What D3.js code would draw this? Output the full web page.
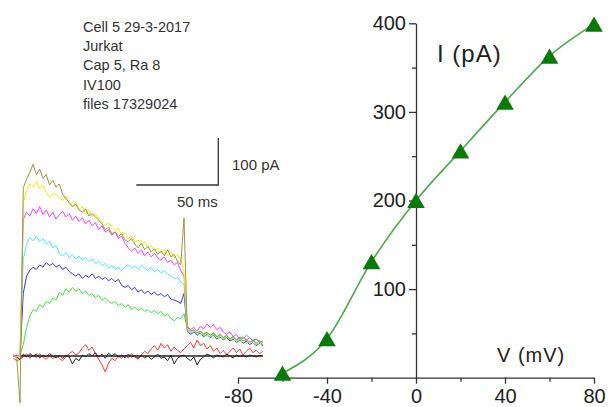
<!DOCTYPE html>
<html>
<head>
<meta charset="utf-8">
<script src="https://cdn.jsdelivr.net/npm/d3@7"></script>
<style>
  html, body { margin: 0; padding: 0; background: #fff; }
  svg { display: block; font-family: "Liberation Sans", Arial, sans-serif; }
</style>
</head>
<body>
<svg id="chart" width="611" height="407"></svg>
<script>
'use strict';

// recording notes, top left
const notes = ['Cell 5 29-3-2017', 'Jurkat', 'Cap 5, Ra 8', 'IV100', 'files 17329024'];

// current traces (pA), one sample every 2 ms starting at -4 ms, step from 0 to 100 ms
const traceStart = -4;
const traceStep = 2;
const traceRed = [
  -5, -10, -7, -2, 5, -5, 2, -4, 5, -2,
  -7, 0, -6, 2, -5, -10, -2, 5, 10, 2,
  7, 17, 24, 12, 19, 5, -7, -19, -34, -15,
  -5, -10, 0, -5, 2, -4, 5, -2, -7, 2,
  10, 5, 15, 22, 12, 27, 17, 24, 10, 19,
  12, 7, 15, 22, 29, 17, 34, 22, 27, 15,
  22, 10, 17, 5, 12, 2, 10, 17, 7, 15,
  2, 10, 17, 7, 12, 5, 10];
const traceBlack = [
  2, -2, -7, 4, -2, 5, 0, 4, -4, 2,
  -2, 5, 0, -4, 2, -5, 1, -2, -17, -5,
  -10, 2, -2, 5, 0, 7, -2, 4, -5, 6,
  0, 5, -2, 2, -4, 4, -2, 1, -5, 2,
  -4, 0, -7, -2, 4, -5, -2, -10, 2, -17,
  -5, 0, 2, -5, -10, -2, -19, -7, -2, 4,
  1, -4, 2, 0, -2, 4, 0, -4, 2, -1,
  1, -2, 2, 0, -2, 1, 0];
const traceGreen = [
  1, -1, 2, 24, 61, 85, 99, 95, 109, 104,
  116, 112, 124, 119, 136, 129, 143, 136, 146, 138,
  143, 133, 138, 129, 133, 124, 129, 119, 124, 116,
  112, 116, 107, 112, 104, 109, 99, 104, 97, 102,
  95, 99, 92, 97, 90, 95, 85, 90, 80, 75,
  82, 80, 90, 58, 51, 56, 49, 53, 46, 51,
  44, 49, 41, 46, 39, 44, 36, 41, 34, 41,
  36, 44, 39, 34, 36, 32, 29];
const traceBlue = [
  -1, 1, 0, 133, 170, 182, 189, 184, 194, 189,
  199, 192, 197, 189, 194, 184, 189, 180, 175, 170,
  175, 165, 172, 167, 175, 165, 170, 163, 167, 160,
  165, 158, 163, 150, 146, 150, 141, 146, 136, 141,
  133, 138, 131, 136, 129, 133, 126, 131, 121, 119,
  116, 112, 133, 53, 46, 51, 44, 49, 41, 46,
  39, 44, 36, 41, 34, 39, 32, 36, 29, 34,
  27, 32, 24, 29, 22, 27, 22];
const traceCyan = [
  0, -1, 1, 206, 238, 252, 245, 255, 243, 250,
  238, 243, 230, 235, 218, 213, 221, 209, 216, 206,
  213, 204, 209, 201, 206, 197, 201, 192, 197, 187,
  192, 184, 189, 182, 189, 194, 187, 192, 184, 194,
  187, 182, 189, 180, 184, 177, 182, 175, 170, 165,
  167, 158, 152, 56, 49, 53, 46, 51, 44, 49,
  41, 46, 39, 44, 36, 41, 34, 39, 32, 36,
  29, 34, 27, 32, 24, 29, 24];
const traceMagenta = [
  0, 2, -2, 291, 306, 298, 313, 303, 318, 301,
  311, 296, 306, 291, 301, 308, 296, 303, 289, 298,
  286, 294, 281, 289, 277, 284, 269, 277, 264, 269,
  257, 264, 250, 255, 240, 230, 223, 230, 218, 226,
  213, 221, 211, 218, 209, 204, 211, 199, 204, 194,
  199, 182, 170, 63, 56, 61, 53, 63, 58, 68,
  61, 66, 56, 61, 51, 46, 51, 41, 46, 36,
  41, 34, 39, 32, 36, 29, 32];
const traceYellow = [
  1, -2, 0, 325, 352, 366, 360, 372, 356, 364,
  348, 338, 345, 344, 337, 330, 340, 323, 318, 327,
  311, 318, 303, 311, 296, 303, 291, 286, 279, 284,
  274, 267, 272, 257, 262, 250, 255, 243, 247, 238,
  243, 230, 235, 223, 230, 218, 226, 213, 221, 209,
  216, 206, 182, 58, 51, 56, 49, 44, 51, 41,
  46, 39, 44, 36, 41, 34, 39, 32, 36, 29,
  34, 27, 32, 27, 29, 24, 27];
const traceOlive = [
  2, -4, -100, 358, 376, 391, 408, 386, 398, 378,
  386, 364, 374, 359, 366, 344, 335, 327, 318, 323,
  311, 306, 313, 298, 303, 296, 289, 281, 269, 274,
  260, 264, 255, 260, 247, 243, 250, 238, 230, 240,
  226, 233, 221, 228, 216, 223, 213, 226, 211, 216,
  201, 194, 294, 61, 53, 56, 49, 53, 46, 51,
  44, 49, 41, 46, 39, 44, 36, 41, 34, 39,
  32, 36, 29, 34, 27, 32, 24];

// I-V curve
const ivVoltage = [-60, -40, -20, 0, 20, 40, 60, 80];
const ivCurrent = [5, 44, 131, 200, 256, 311, 363, 399];
const xTicks = [-80, -40, 0, 40, 80];
const xMinor = [-60, -20, 20, 60];
const yTicks = [100, 200, 300, 400];
const yMinor = [50, 150, 250, 350];

const svg = d3.select('#chart');
const ink = '#333';

// ---- notes
svg.append('g')
    .attr('fill', ink)
    .attr('font-size', 14.5)
    .selectAll('text')
    .data(notes)
  .enter().append('text')
    .attr('x', 83)
    .attr('y', (d, i) => 31.5 + i * 19.4)
    .text(d => d);

// ---- traces
const tx = d3.scaleLinear().domain([0, 100]).range([20, 184]);
const ty = d3.scaleLinear().domain([0, 100]).range([356, 309]);

const traces = [
  { values: traceRed, color: '#ff3434' },
  { values: traceBlack, color: '#222' },
  { values: null, color: '#222' },
  { values: traceGreen, color: '#3fe43f' },
  { values: traceBlue, color: '#3535f0' },
  { values: traceCyan, color: '#3ff0f4' },
  { values: traceMagenta, color: '#ff3cff' },
  { values: traceYellow, color: '#f2f200' },
  { values: traceOlive, color: '#9c9640' }
];

const traceLine = d3.line()
    .x((d, i) => tx(traceStart + i * traceStep))
    .y(d => ty(d));

const traceG = svg.append('g')
    .attr('fill', 'none')
    .attr('stroke-width', 1)
    .attr('stroke-linejoin', 'round');

traces.forEach(tr => {
  if (tr.values === null) {
    // zero current reference
    traceG.append('line')
        .attr('x1', tx(traceStart))
        .attr('x2', tx(traceStart + (traceOlive.length - 1) * traceStep))
        .attr('y1', ty(0))
        .attr('y2', ty(0))
        .attr('stroke', tr.color)
        .attr('stroke-width', 1.3);
    return;
  }
  traceG.append('path')
      .datum(tr.values)
      .attr('stroke', tr.color)
      .attr('d', traceLine);
});

// scale bar: 50 ms, 100 pA
const barX = 218.3, barY = 185;
const bar = svg.append('g')
    .attr('stroke', ink)
    .attr('stroke-width', 1.3)
    .attr('fill', 'none');
bar.append('path')
    .attr('d', `M${barX - (tx(50) - tx(0))},${barY}H${barX}V${barY - (ty(0) - ty(100))}`);

svg.append('text')
    .attr('x', 232)
    .attr('y', 169.5)
    .attr('font-size', 15)
    .attr('fill', ink)
    .text('100 pA');
svg.append('text')
    .attr('x', 177)
    .attr('y', 206.5)
    .attr('font-size', 15)
    .attr('fill', ink)
    .text('50 ms');

// ---- I-V plot
const x = d3.scaleLinear().domain([-80, 80]).range([238, 594]);
const y = d3.scaleLinear().domain([0, 400]).range([377.7, 23.3]);

const xAxis = svg.append('g')
    .attr('transform', `translate(0, ${y(0)})`)
    .call(d3.axisBottom(x).tickValues(xTicks).tickSize(6).tickSizeOuter(0).tickFormat(d => String(d)));
xAxis.append('g')
    .call(d3.axisBottom(x).tickValues(xMinor).tickSize(4).tickSizeOuter(0).tickFormat(''))
    .select('.domain').remove();

const yAxis = svg.append('g')
    .attr('transform', `translate(${x(0)}, 0)`)
    .call(d3.axisLeft(y).tickValues(yTicks).tickSize(7).tickSizeOuter(0).tickPadding(3));
yAxis.append('g')
    .call(d3.axisLeft(y).tickValues(yMinor).tickSize(4).tickSizeOuter(0).tickFormat(''))
    .select('.domain').remove();

svg.selectAll('.domain, .tick line')
    .attr('stroke', ink)
    .attr('stroke-width', 1.3);
svg.selectAll('.tick text')
    .attr('fill', '#222')
    .attr('font-family', '"Liberation Sans", Arial, sans-serif')
    .attr('font-size', 20);
xAxis.selectAll('.tick text')
    .attr('y', 11.5)
    .attr('dy', '0.71em');

svg.append('path')
    .datum(d3.zip(ivVoltage, ivCurrent))
    .attr('fill', 'none')
    .attr('stroke', '#4ca84c')
    .attr('stroke-width', 1.6)
    .attr('d', d3.line()
        .x(d => x(d[0]))
        .y(d => y(d[1]))
        .curve(d3.curveMonotoneX));

const tri = d3.symbol().type(d3.symbolTriangle).size(135);
svg.append('g')
    .attr('fill', '#087a08')
    .selectAll('path')
    .data(d3.zip(ivVoltage, ivCurrent))
  .enter().append('path')
    .attr('transform', d => `translate(${x(d[0])}, ${y(d[1]) + 2.5})`)
    .attr('d', tri);

svg.append('text')
    .attr('x', 437)
    .attr('y', 62)
    .attr('font-size', 24)
    .attr('letter-spacing', 1)
    .attr('fill', '#222')
    .text('I (pA)');
svg.append('text')
    .attr('x', 497)
    .attr('y', 362)
    .attr('font-size', 20)
    .attr('letter-spacing', 1)
    .attr('fill', '#222')
    .text('V (mV)');
</script>
</body>
</html>
